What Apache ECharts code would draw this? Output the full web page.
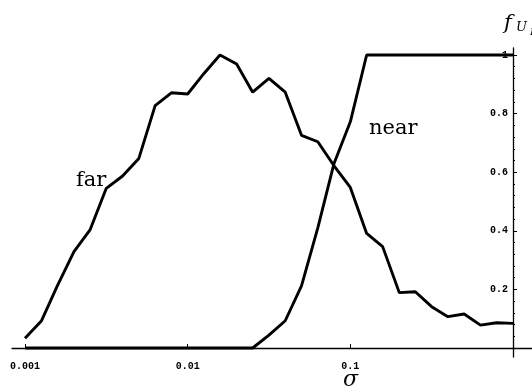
<!DOCTYPE html>
<html>
<head>
<meta charset="utf-8">
<script src="https://cdn.jsdelivr.net/npm/echarts@6/dist/echarts.min.js"></script>
<style>
html,body{margin:0;padding:0;background:#fff;}
#chart{width:532px;height:392px;}
</style>
</head>
<body>
<div id="chart"></div>
<script>
// sigma values (log-spaced, 0.1 decade)
var sigma = [0.001, 0.00126, 0.00158, 0.002, 0.00251, 0.00316, 0.00398, 0.00501, 0.00631, 0.00794,
             0.01, 0.0126, 0.0158, 0.02, 0.0251, 0.0316, 0.0398, 0.0501, 0.0631, 0.0794,
             0.1, 0.126, 0.158, 0.2, 0.251, 0.316, 0.398, 0.501, 0.631, 0.794, 1];
var farValues = [0.033, 0.092, 0.212, 0.329, 0.403, 0.545, 0.587, 0.647, 0.827, 0.871,
                 0.867, 0.937, 1.0, 0.969, 0.873, 0.920, 0.873, 0.726, 0.704, 0.622,
                 0.548, 0.391, 0.346, 0.189, 0.192, 0.141, 0.107, 0.116, 0.078, 0.086, 0.084];
var nearValues = [0, 0, 0, 0, 0, 0, 0, 0, 0, 0,
                  0, 0, 0, 0, 0, 0.044, 0.093, 0.212, 0.41, 0.63,
                  0.772, 1, 1, 1, 1, 1, 1, 1, 1, 1, 1];
var xTickLabels = [0.001, 0.01, 0.1];
var yTickValues = [0, 0.2, 0.4, 0.6, 0.8, 1];
var yMinorTicks = [0.04, 0.08, 0.12, 0.16, 0.24, 0.28, 0.32, 0.36, 0.44, 0.48, 0.52, 0.56,
                   0.64, 0.68, 0.72, 0.76, 0.84, 0.88, 0.92, 0.96];

function pairs(xs, ys) { return xs.map(function (x, i) { return [x, ys[i]]; }); }

var chart = echarts.init(document.getElementById('chart'));
var mono = '"Liberation Mono", "DejaVu Sans Mono", monospace';
var serif = '"DejaVu Serif", serif';
chart.setOption({
  animation: false,
  backgroundColor: '#ffffff',
  title: [
    { text: 'σ', left: 338, top: 364, textStyle: { fontFamily: serif, fontStyle: 'italic', fontWeight: 'normal', fontSize: 22, color: '#000' } },
    { text: 'far', left: 71, top: 165, textStyle: { fontFamily: serif, fontWeight: 'normal', fontSize: 21, color: '#000' } },
    { text: 'near', left: 364, top: 113, textStyle: { fontFamily: serif, fontWeight: 'normal', fontSize: 21, color: '#000' } },
    { text: 'f', left: 499, top: 8, textStyle: { fontFamily: serif, fontStyle: 'italic', fontWeight: 'normal', fontSize: 21, color: '#000' } },
    { text: 'U', left: 511, top: 16, textStyle: { fontFamily: serif, fontStyle: 'italic', fontWeight: 'normal', fontSize: 13, color: '#000' } },
    { text: 'P', left: 525, top: 22, textStyle: { fontFamily: serif, fontStyle: 'italic', fontWeight: 'normal', fontSize: 10, color: '#000' } }
  ],
  grid: { left: 12, right: 0, top: 48, bottom: 35, containLabel: false },
  xAxis: {
    type: 'log',
    min: 0.0008319,
    max: 1.3088,
    axisLine: { show: true, onZero: true, lineStyle: { color: '#000', width: 1.3 } },
    axisTick: { show: true, inside: true, length: 4, customValues: xTickLabels, lineStyle: { color: '#000' } },
    axisLabel: {
      show: true, customValues: xTickLabels, margin: 4,
      fontFamily: mono, fontWeight: 'bold', fontSize: 10, color: '#000',
      formatter: function (v) { return String(Number(v.toPrecision(3))); }
    },
    splitLine: { show: false },
    minorTick: { show: false }
  },
  yAxis: [{
    type: 'value',
    position: 'right',
    offset: -19,
    min: -0.0307,
    max: 1.0239,
    axisLine: { show: true, onZero: false, lineStyle: { color: '#000', width: 1.3 } },
    axisTick: { show: true, inside: false, length: 4, customValues: yTickValues, lineStyle: { color: '#000' } },
    axisLabel: {
      show: true, inside: true, margin: 5, customValues: [0.2, 0.4, 0.6, 0.8, 1],
      fontFamily: mono, fontWeight: 'bold', fontSize: 10, color: '#000',
      formatter: function (v) { return String(Number(v.toFixed(2))); }
    },
    splitLine: { show: false }
  }, {
    type: 'value',
    position: 'right',
    offset: -19,
    min: -0.0307,
    max: 1.0239,
    axisLine: { show: false, onZero: false },
    axisTick: { show: true, inside: false, length: 2, customValues: yMinorTicks, lineStyle: { color: '#000' } },
    axisLabel: { show: false },
    splitLine: { show: false }
  }],
  series: [{
    name: 'far',
    type: 'line',
    data: pairs(sigma, farValues),
    showSymbol: false,
    symbol: 'none',
    lineStyle: { color: '#000', width: 2.9 },
    z: 3
  }, {
    name: 'near',
    type: 'line',
    data: pairs(sigma, nearValues),
    showSymbol: false,
    symbol: 'none',
    lineStyle: { color: '#000', width: 2.9 },
    z: 3
  }]
});
</script>
</body>
</html>
